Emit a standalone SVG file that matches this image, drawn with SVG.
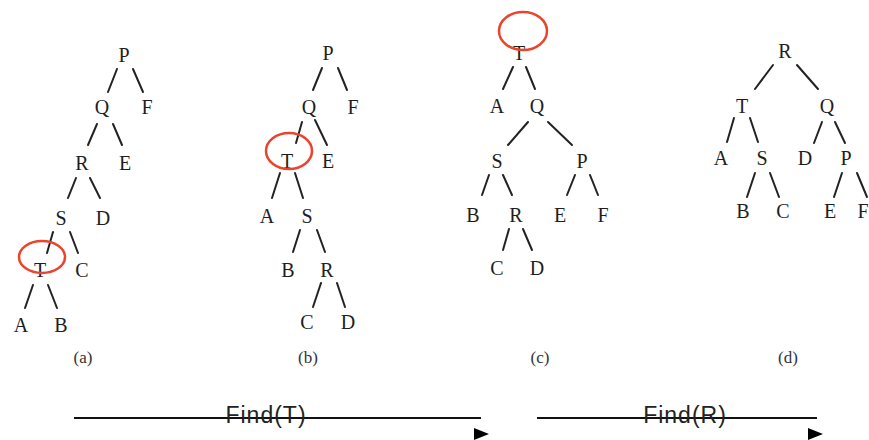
<svg xmlns="http://www.w3.org/2000/svg" width="869" height="440" viewBox="0 0 869 440">
  <style>
    .n { font-family: "Liberation Serif", "Times New Roman", serif; font-size: 20px; fill: #1e1e1e; text-anchor: middle; }
    .cap { font-family: "Liberation Serif", "Times New Roman", serif; font-size: 17px; fill: #333; text-anchor: middle; }
    .op { font-family: "Liberation Sans", Arial, sans-serif; font-size: 23px; letter-spacing: 1px; fill: #222; text-anchor: middle; }
    .e { stroke: #222; stroke-width: 2; stroke-linecap: round; fill: none; }
    .rule { stroke: #111; stroke-width: 2; fill: none; }
    .mark { fill: none; stroke: #e8452c; stroke-width: 2.5; }
  </style>
  <defs>
    <polygon id="tip" points="0,0 15,6 0,12" fill="#000"/>
  </defs>
  <rect width="869" height="440" fill="#fff"/>

  <!-- tree edges and Find arrows -->
  <g id="connectors">
    <!-- (a) -->
    <line class="e" x1="117" y1="69" x2="108" y2="92"/>
    <line class="e" x1="133" y1="69" x2="143" y2="92"/>
    <line class="e" x1="97" y1="124" x2="88" y2="145"/>
    <line class="e" x1="113" y1="124" x2="122" y2="145"/>
    <line class="e" x1="76" y1="178" x2="68" y2="198"/>
    <line class="e" x1="90" y1="178" x2="100" y2="198"/>
    <line class="e" x1="53" y1="232" x2="47" y2="253"/>
    <line class="e" x1="70" y1="232" x2="78" y2="253"/>
    <line class="e" x1="33" y1="285" x2="25" y2="308"/>
    <line class="e" x1="48" y1="285" x2="57" y2="308"/>
    <!-- (b) -->
    <line class="e" x1="322" y1="68" x2="313" y2="90"/>
    <line class="e" x1="338" y1="68" x2="347" y2="90"/>
    <line class="e" x1="302" y1="122" x2="296" y2="143"/>
    <line class="e" x1="315" y1="120" x2="327" y2="145"/>
    <line class="e" x1="280" y1="173" x2="272" y2="198"/>
    <line class="e" x1="295" y1="173" x2="303" y2="198"/>
    <line class="e" x1="300" y1="230" x2="293" y2="252"/>
    <line class="e" x1="317" y1="230" x2="325" y2="252"/>
    <line class="e" x1="321" y1="283" x2="313" y2="307"/>
    <line class="e" x1="337" y1="283" x2="345" y2="307"/>
    <!-- (c) -->
    <line class="e" x1="513" y1="67" x2="503" y2="89"/>
    <line class="e" x1="526" y1="67" x2="535" y2="89"/>
    <line class="e" x1="528" y1="122" x2="508" y2="145"/>
    <line class="e" x1="548" y1="122" x2="572" y2="145"/>
    <line class="e" x1="489" y1="175" x2="482" y2="195"/>
    <line class="e" x1="503" y1="175" x2="512" y2="195"/>
    <line class="e" x1="575" y1="175" x2="567" y2="195"/>
    <line class="e" x1="590" y1="175" x2="598" y2="195"/>
    <line class="e" x1="509" y1="229" x2="503" y2="250"/>
    <line class="e" x1="523" y1="229" x2="532" y2="250"/>
    <!-- (d) -->
    <line class="e" x1="773" y1="65" x2="755" y2="89"/>
    <line class="e" x1="797" y1="65" x2="818" y2="89"/>
    <line class="e" x1="734" y1="118" x2="727" y2="142"/>
    <line class="e" x1="750" y1="118" x2="758" y2="142"/>
    <line class="e" x1="822" y1="122" x2="814" y2="143"/>
    <line class="e" x1="835" y1="122" x2="845" y2="143"/>
    <line class="e" x1="755" y1="173" x2="747" y2="197"/>
    <line class="e" x1="770" y1="173" x2="779" y2="197"/>
    <line class="e" x1="842" y1="173" x2="834" y2="197"/>
    <line class="e" x1="857" y1="173" x2="867" y2="197"/>
    <!-- Find arrows -->
    <line class="rule" x1="74" y1="418" x2="481" y2="418"/>
    <use href="#tip" x="474" y="428"/>
    <line class="rule" x1="537" y1="418" x2="817" y2="418"/>
    <use href="#tip" x="808" y="428"/>
  </g>

  <!-- (a) -->
  <g id="a-P"><text class="n" x="124" y="62">P</text></g>
  <g id="a-Q"><text class="n" x="102" y="114">Q</text></g>
  <g id="a-F"><text class="n" x="147" y="114">F</text></g>
  <g id="a-R"><text class="n" x="82" y="170">R</text></g>
  <g id="a-E"><text class="n" x="125" y="170">E</text></g>
  <g id="a-S"><text class="n" x="61" y="225">S</text></g>
  <g id="a-D"><text class="n" x="103" y="225">D</text></g>
  <g id="a-T"><text class="n" x="40" y="277">T</text><ellipse class="mark" cx="42" cy="257" rx="23" ry="16"/></g>
  <g id="a-C"><text class="n" x="82" y="277">C</text></g>
  <g id="a-A"><text class="n" x="21" y="332">A</text></g>
  <g id="a-B"><text class="n" x="61" y="332">B</text></g>
  <text class="cap" x="83" y="363">(a)</text>

  <!-- (b) -->
  <g id="b-P"><text class="n" x="328" y="60">P</text></g>
  <g id="b-Q"><text class="n" x="309" y="114">Q</text></g>
  <g id="b-F"><text class="n" x="353" y="114">F</text></g>
  <g id="b-T"><text class="n" x="287" y="168">T</text><ellipse class="mark" cx="289" cy="151" rx="23" ry="18"/></g>
  <g id="b-E"><text class="n" x="328" y="168">E</text></g>
  <g id="b-A"><text class="n" x="267" y="223">A</text></g>
  <g id="b-S"><text class="n" x="307" y="223">S</text></g>
  <g id="b-B"><text class="n" x="288" y="277">B</text></g>
  <g id="b-R"><text class="n" x="327" y="277">R</text></g>
  <g id="b-C"><text class="n" x="307" y="329">C</text></g>
  <g id="b-D"><text class="n" x="348" y="329">D</text></g>
  <text class="cap" x="308" y="363">(b)</text>

  <!-- (c) -->
  <g id="c-T"><text class="n" x="519" y="60">T</text><ellipse class="mark" cx="523" cy="31" rx="24" ry="19"/></g>
  <g id="c-A"><text class="n" x="497" y="113">A</text></g>
  <g id="c-Q"><text class="n" x="537" y="113">Q</text></g>
  <g id="c-S"><text class="n" x="497" y="168">S</text></g>
  <g id="c-P"><text class="n" x="582" y="168">P</text></g>
  <g id="c-B"><text class="n" x="473" y="222">B</text></g>
  <g id="c-R"><text class="n" x="516" y="222">R</text></g>
  <g id="c-E"><text class="n" x="560" y="222">E</text></g>
  <g id="c-F"><text class="n" x="603" y="222">F</text></g>
  <g id="c-C"><text class="n" x="497" y="275">C</text></g>
  <g id="c-D"><text class="n" x="537" y="275">D</text></g>
  <text class="cap" x="540" y="363">(c)</text>

  <!-- (d) -->
  <g id="d-R"><text class="n" x="785" y="58">R</text></g>
  <g id="d-T"><text class="n" x="742" y="113">T</text></g>
  <g id="d-Q"><text class="n" x="827" y="113">Q</text></g>
  <g id="d-A"><text class="n" x="721" y="165">A</text></g>
  <g id="d-S"><text class="n" x="762" y="165">S</text></g>
  <g id="d-D"><text class="n" x="805" y="165">D</text></g>
  <g id="d-P"><text class="n" x="846" y="165">P</text></g>
  <g id="d-B"><text class="n" x="743" y="218">B</text></g>
  <g id="d-C"><text class="n" x="783" y="218">C</text></g>
  <g id="d-E"><text class="n" x="830" y="218">E</text></g>
  <g id="d-F"><text class="n" x="863" y="218">F</text></g>
  <text class="cap" x="788" y="363">(d)</text>

  <!-- operation labels -->
  <text class="op" x="266" y="423">Find(T)</text>
  <text class="op" x="685" y="423">Find(R)</text>
</svg>
